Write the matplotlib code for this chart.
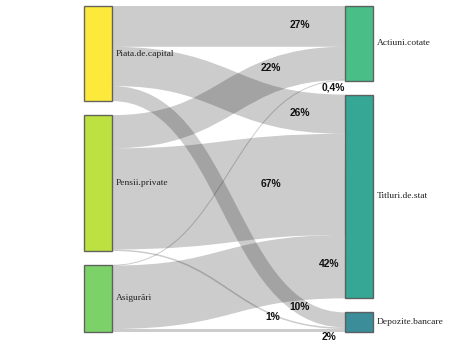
"""Sankey diagram: allocation of investments by institutional investor type."""

import matplotlib
matplotlib.use("Agg")
import matplotlib.pyplot as plt
from matplotlib.path import Path
from matplotlib.patches import PathPatch, Rectangle

# ---------------------------------------------------------------------------
# Data
# ---------------------------------------------------------------------------
SOURCES = ["Piata.de.capital", "Pensii.private", "Asigurări"]
TARGETS = ["Actiuni.cotate", "Titluri.de.stat", "Depozite.bancare"]

LINK_SOURCE = ["Piata.de.capital", "Piata.de.capital", "Piata.de.capital",
               "Pensii.private", "Pensii.private", "Pensii.private",
               "Asigurări", "Asigurări", "Asigurări"]
LINK_TARGET = ["Actiuni.cotate", "Titluri.de.stat", "Depozite.bancare",
               "Actiuni.cotate", "Titluri.de.stat", "Depozite.bancare",
               "Actiuni.cotate", "Titluri.de.stat", "Depozite.bancare"]
LINK_VALUE = [27, 26, 10, 22, 67, 1, 0.4, 42, 2]

NODE_COLORS = {
    "Piata.de.capital": "#fde725",
    "Pensii.private": "#b5de2b",
    "Asigurări": "#6ece58",
    "Actiuni.cotate": "#35b779",
    "Titluri.de.stat": "#1f9e89",
    "Depozite.bancare": "#26828e",
}

# where each percentage annotation sits (pixel coords, y downwards)
LABEL_POS = [(300, 25), (300, 113), (300, 307),
             (271, 68), (271, 184), (273, 317),
             (333, 87), (329, 264), (329, 337)]

# ---------------------------------------------------------------------------
# Layout
# ---------------------------------------------------------------------------
W, H, DPI = 463, 345, 100
TOP, BOTTOM = 6, 332
PAD = 14
X_LEFT, X_RIGHT, NODE_W = 84, 345, 28


def _totals(names, key_list):
    return {n: sum(v for k, v in zip(key_list, LINK_VALUE) if k == n) for n in names}


src_tot = _totals(SOURCES, LINK_SOURCE)
tgt_tot = _totals(TARGETS, LINK_TARGET)
ky = min((BOTTOM - TOP - PAD * (len(SOURCES) - 1)) / sum(src_tot.values()),
         (BOTTOM - TOP - PAD * (len(TARGETS) - 1)) / sum(tgt_tot.values()))


def _stack(names, totals):
    pos, y = {}, TOP
    for n in names:
        h = totals[n] * ky
        pos[n] = (y, y + h)
        y += h + PAD
    return pos


src_pos = _stack(SOURCES, src_tot)
tgt_pos = _stack(TARGETS, tgt_tot)

# offsets of each link inside its source / target node
src_off = {n: src_pos[n][0] for n in SOURCES}
tgt_off = {n: tgt_pos[n][0] for n in TARGETS}
links = []
for s, t, v in zip(LINK_SOURCE, LINK_TARGET, LINK_VALUE):
    links.append([s, t, v, 0.0, 0.0])
for lk in sorted(links, key=lambda l: TARGETS.index(l[1])):
    lk[3] = src_off[lk[0]] + lk[2] * ky / 2
    src_off[lk[0]] += lk[2] * ky
for lk in sorted(links, key=lambda l: SOURCES.index(l[0])):
    lk[4] = tgt_off[lk[1]] + lk[2] * ky / 2
    tgt_off[lk[1]] += lk[2] * ky

# ---------------------------------------------------------------------------
# Plot
# ---------------------------------------------------------------------------
fig = plt.figure(figsize=(W / DPI, H / DPI), dpi=DPI)
ax = fig.add_axes([0, 0, 1, 1])
ax.set_xlim(0, W)
ax.set_ylim(H, 0)
ax.axis("off")

x0, x1 = X_LEFT + NODE_W, X_RIGHT
xm = (x0 + x1) / 2
for s, t, v, ys, yt in links:
    path = Path([(x0, ys), (xm, ys), (xm, yt), (x1, yt)],
                [Path.MOVETO, Path.CURVE4, Path.CURVE4, Path.CURVE4])
    lw = max(1.0, v * ky) * 72 / DPI
    ax.add_patch(PathPatch(path, fill=False, edgecolor="black", alpha=0.2,
                           linewidth=lw, capstyle="butt", zorder=1))

for names, pos, x in [(SOURCES, src_pos, X_LEFT), (TARGETS, tgt_pos, X_RIGHT)]:
    for n in names:
        y0, y1 = pos[n]
        ax.add_patch(Rectangle((x, y0), NODE_W, y1 - y0, facecolor=NODE_COLORS[n],
                               alpha=0.9, edgecolor="#555555", linewidth=1, zorder=2))
        ax.text(x + NODE_W + 4, (y0 + y1) / 2, n, ha="left", va="center",
                fontsize=6.8, family="Liberation Serif", color="#222222", zorder=3)

for v, (px, py) in zip(LINK_VALUE, LABEL_POS):
    txt = f"{v:g}%".replace(".", ",")
    ax.text(px, py, txt, ha="center", va="center", fontsize=7.4,
            family="Liberation Sans", fontweight="bold", color="#111111", zorder=4)

fig.savefig("out.png", dpi=DPI, facecolor="white")
